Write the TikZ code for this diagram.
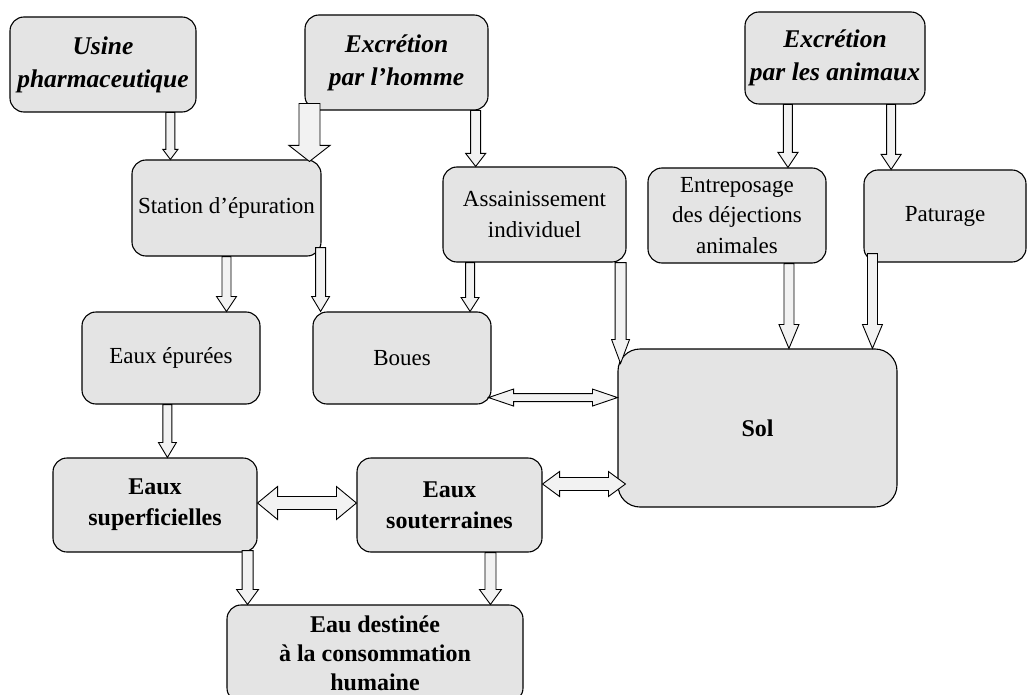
\documentclass[tikz,border=0pt]{standalone}
\usepackage{fontspec}
\setmainfont{Liberation Serif}
\usetikzlibrary{calc}
\definecolor{boxgray}{HTML}{E4E4E4}
\definecolor{arrgray}{HTML}{F2F2F2}
% vertical (downward) block arrow: start, end, half shaft, half head, head length
\newcommand\varr[5]{\draw[arr] let \p1=#1, \p2=#2 in
 ({\x1-#3pt},\y1) -- ({\x1-#3pt},{\y2+#5pt}) -- ({\x1-#4pt},{\y2+#5pt}) -- (\x1,\y2)
 -- ({\x1+#4pt},{\y2+#5pt}) -- ({\x1+#3pt},{\y2+#5pt}) -- ({\x1+#3pt},\y1) -- cycle;}
% horizontal double block arrow
\newcommand\harr[5]{\draw[arr] let \p1=#1, \p2=#2 in
 (\x1,\y1) -- ({\x1+#5pt},{\y1+#4pt}) -- ({\x1+#5pt},{\y1+#3pt}) -- ({\x2-#5pt},{\y1+#3pt})
 -- ({\x2-#5pt},{\y1+#4pt}) -- (\x2,\y1) -- ({\x2-#5pt},{\y1-#4pt}) -- ({\x2-#5pt},{\y1-#3pt})
 -- ({\x1+#5pt},{\y1-#3pt}) -- ({\x1+#5pt},{\y1-#4pt}) -- cycle;}
\newcommand\bx[7][]{\node[box,#1,minimum width={#4-#2}, minimum height={#5-#3}] (#6) at ({(#2+#4)/2},{(#3+#5)/2}) {#7};}
\begin{document}
\begin{tikzpicture}[x=1pt,y=-1pt,
 box/.style={draw=black, line width=1.1pt, rounded corners=14pt, fill=boxgray, inner sep=0pt,
   align=center, font=\fontsize{23}{30.5}\selectfont},
 bi/.style={font=\fontsize{25.5}{33}\selectfont\bfseries\itshape},
 bo/.style={font=\fontsize{24}{31}\selectfont\bfseries},
 arr/.style={draw=black, line width=0.9pt, fill=arrgray, line join=miter}]
\useasboundingbox (0,0) rectangle (1032,695);
\clip (0,0) rectangle (1032,695);
\fill[white] (0,0) rectangle (1032,695);
% boxes
\bx[bi]{10}{17}{196}{112}{usine}{Usine\\pharmaceutique}
\bx[bi]{305}{15}{488}{110}{excrh}{Excrétion\\par l'homme}
\bx[bi]{745}{12}{925}{104}{excra}{Excrétion\\par les animaux}
\bx{132}{160}{321}{256}{station}{Station d'épuration}
\bx{443}{167}{626}{262}{assain}{Assainissement\\individuel}
\bx{648}{168}{826}{263}{entrep}{Entreposage\\des déjections\\animales}
\bx{864}{170}{1026}{262}{patur}{Paturage}
\bx{82}{312}{260}{404}{epurees}{Eaux épurées}
\bx{313}{312}{491}{404}{boues}{Boues}
\bx[bo,rounded corners=22pt]{618}{349}{897}{507}{sol}{Sol}
\bx[bo]{53}{458}{257}{552}{superf}{Eaux\\superficielles}
\bx[bo]{357}{458}{542}{552}{souter}{Eaux\\souterraines}
\bx[bo,font=\fontsize{24}{29}\selectfont\bfseries]{227}{605}{523}{702}{dest}{Eau destinée\\à la consommation\\humaine}
% arrows
\varr{($(usine.south west)!0.86!(usine.south east)$)}{(station.north)}{4.5}{7.5}{10}
\varr{($(excrh.south west)+(5,-7)$)}{($(station.north)+(0,2)$)}{10.5}{20.5}{16}
\varr{($(excrh.south west)!0.93!(excrh.south east)$)}{(assain.north)}{5}{10}{13}
\varr{($(excra.south west)!0.24!(excra.south east)$)}{(entrep.north)}{4.5}{10}{15}
\varr{($(excra.south west)!0.81!(excra.south east)$)}{(patur.north)}{4.5}{10}{15}
\varr{(station.south)}{(epurees.north)}{4.5}{10}{15}
\varr{($(station.south east)+(-1,-9)$)}{(boues.north)}{5}{9}{15}
\varr{($(assain.south west)!0.15!(assain.south east)$)}{(boues.north)}{4.5}{9}{14}
\varr{($(assain.south east)+(-6,0)$)}{($(sol.north west)+(0,15)$)}{5.5}{9}{24}
\varr{($(entrep.south west)!0.79!(entrep.south east)$)}{(sol.north)}{5}{10}{24}
\varr{($(patur.south west)+(9,-9)$)}{(sol.north)}{5}{10}{24}
\varr{($(epurees.south west)!0.48!(epurees.south east)$)}{(superf.north)}{4.5}{9}{15}
\varr{($(superf.south east)+(-10,-2)$)}{(dest.north)}{5.5}{11}{15}
\varr{($(souter.south west)!0.72!(souter.south east)$)}{(dest.north)}{5.5}{11}{15}
\harr{($(boues.south east)+(-3,-7)$)}{(sol.west)}{4}{8.5}{25}
\harr{($(superf.east)+(0,-2)$)}{(souter.west)}{6.5}{16.5}{20}
\harr{($(souter.east)+(0,-21)$)}{($(sol.west)+(8,0)$)}{6.5}{12.5}{17}
\end{tikzpicture}
\end{document}
